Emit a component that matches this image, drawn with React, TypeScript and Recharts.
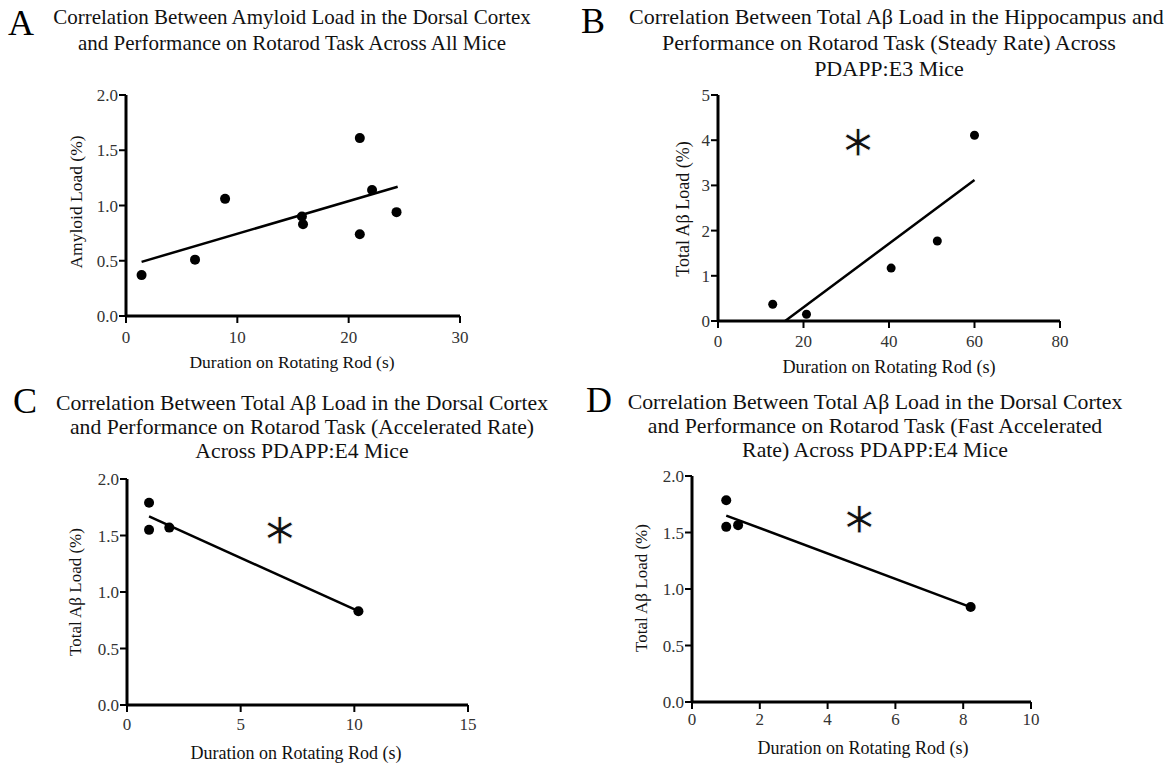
import React from 'react';
import { ScatterChart, Scatter, XAxis, YAxis, ReferenceLine } from 'recharts';

const FONT = '"Liberation Serif", "Times New Roman", Times, serif';

const xAxisLabel = 'Duration on Rotating Rod (s)';

// Panel A
const titleA = ['Correlation Between Amyloid Load in the Dorsal Cortex', 'and Performance on Rotarod Task Across All Mice'];
const yLabelA = 'Amyloid Load (%)';
const durationA = [1.4, 6.2, 8.9, 15.8, 15.9, 21.0, 21.0, 22.1, 24.3];
const loadA = [0.37, 0.51, 1.06, 0.9, 0.83, 1.61, 0.74, 1.14, 0.94];
const fitXA = [1.4, 24.4];
const fitYA = [0.49, 1.17];
const xTicksA = [0, 10, 20, 30];
const yTicksA = [0, 0.5, 1.0, 1.5, 2.0];

// Panel B
const titleB = ['Correlation Between Total Aβ Load in the Hippocampus and', 'Performance on Rotarod Task (Steady Rate) Across', 'PDAPP:E3 Mice'];
const yLabelB = 'Total Aβ Load (%)';
const durationB = [12.8, 20.7, 40.5, 51.3, 60.0];
const loadB = [0.37, 0.15, 1.17, 1.77, 4.11];
const fitXB = [15.7, 60.0];
const fitYB = [0, 3.12];
const starB = [32.8, 4.0];
const xTicksB = [0, 20, 40, 60, 80];
const yTicksB = [0, 1, 2, 3, 4, 5];

// Panel C
const titleC = ['Correlation Between Total Aβ Load in the Dorsal Cortex', 'and Performance on Rotarod Task (Accelerated Rate)', 'Across PDAPP:E4 Mice'];
const yLabelC = 'Total Aβ Load (%)';
const durationC = [0.97, 0.97, 1.86, 10.18];
const loadC = [1.79, 1.55, 1.57, 0.83];
const fitXC = [0.97, 10.18];
const fitYC = [1.67, 0.83];
const starC = [6.73, 1.56];
const xTicksC = [0, 5, 10, 15];
const yTicksC = [0, 0.5, 1.0, 1.5, 2.0];

// Panel D
const titleD = ['Correlation Between Total Aβ Load in the Dorsal Cortex', 'and Performance on Rotarod Task (Fast Accelerated', 'Rate) Across PDAPP:E4 Mice'];
const yLabelD = 'Total Aβ Load (%)';
const durationD = [1.01, 1.01, 1.36, 8.22];
const loadD = [1.785, 1.55, 1.565, 0.84];
const fitXD = [1.01, 8.22];
const fitYD = [1.65, 0.84];
const starD = [4.94, 1.63];
const xTicksD = [0, 2, 4, 6, 8, 10];
const yTicksD = [0, 0.5, 1.0, 1.5, 2.0];

const fmt1 = (v: number) => v.toFixed(1);
const fmt0 = (v: number) => String(v);

type Cfg = {
  letter: string;
  letterPos: { x: number; cy: number };
  title: string[];
  titleCx: number;
  titleY0: number;
  lineH: number;
  titleSize: number;
  labelSize: number;
  yLabelSize: number;
  box: { left: number; top: number; width: number; height: number };
  margin: { top: number; right: number; bottom: number; left: number };
  xs: number[];
  ys: number[];
  fitX: number[];
  fitY: number[];
  star: number[] | null;
  xTicks: number[];
  yTicks: number[];
  yFmt: (v: number) => string;
  yLabel: string;
  xLabelPos: { cx: number; cy: number };
  yLabelPos: { cx: number; cy: number };
  r: number;
  tickMargin: number;
};

const panels: Cfg[] = [
  {
    letter: 'A', letterPos: { x: 8, cy: 23 }, title: titleA, titleCx: 292, titleY0: 17, lineH: 26,
    titleSize: 21, labelSize: 17.5, yLabelSize: 17.5,
    box: { left: 0, top: 80, width: 580, height: 290 },
    margin: { top: 15, right: 120, bottom: 24, left: 66 },
    xs: durationA, ys: loadA, fitX: fitXA, fitY: fitYA, star: null,
    xTicks: xTicksA, yTicks: yTicksA, yFmt: fmt1, yLabel: yLabelA,
    xLabelPos: { cx: 292, cy: 362 }, yLabelPos: { cx: 76, cy: 202 }, r: 5, tickMargin: 8,
  },
  {
    letter: 'B', letterPos: { x: 581, cy: 21 }, title: titleB, titleCx: 889, titleY0: 17, lineH: 26,
    titleSize: 22, labelSize: 18.2, yLabelSize: 18,
    box: { left: 580, top: 80, width: 587, height: 290 },
    margin: { top: 15, right: 107, bottom: 19, left: 78 },
    xs: durationB, ys: loadB, fitX: fitXB, fitY: fitYB, star: starB,
    xTicks: xTicksB, yTicks: yTicksB, yFmt: fmt0, yLabel: yLabelB,
    xLabelPos: { cx: 889, cy: 367 }, yLabelPos: { cx: 683, cy: 209 }, r: 4.5, tickMargin: 7,
  },
  {
    letter: 'C', letterPos: { x: 13, cy: 401 }, title: titleC, titleCx: 302, titleY0: 403, lineH: 24,
    titleSize: 21.7, labelSize: 18, yLabelSize: 17,
    box: { left: 0, top: 460, width: 580, height: 305 },
    margin: { top: 19, right: 112, bottom: 30, left: 67 },
    xs: durationC, ys: loadC, fitX: fitXC, fitY: fitYC, star: starC,
    xTicks: xTicksC, yTicks: yTicksC, yFmt: fmt1, yLabel: yLabelC,
    xLabelPos: { cx: 296, cy: 753 }, yLabelPos: { cx: 76, cy: 592 }, r: 5, tickMargin: 6,
  },
  {
    letter: 'D', letterPos: { x: 586, cy: 400 }, title: titleD, titleCx: 875, titleY0: 402, lineH: 24,
    titleSize: 21.8, labelSize: 18, yLabelSize: 17,
    box: { left: 580, top: 460, width: 587, height: 305 },
    margin: { top: 16, right: 136, bottom: 33, left: 52 },
    xs: durationD, ys: loadD, fitX: fitXD, fitY: fitYD, star: starD,
    xTicks: xTicksD, yTicks: yTicksD, yFmt: fmt1, yLabel: yLabelD,
    xLabelPos: { cx: 863, cy: 748 }, yLabelPos: { cx: 642, cy: 588 }, r: 5, tickMargin: 4,
  },
];

const textColor = '#111';
const tickStyle = { fill: '#333', fontSize: 17, fontFamily: FONT };

function Panel({ cfg }: { cfg: Cfg }) {
  const data = cfg.xs.map((x, i) => ({ x, y: cfg.ys[i] }));
  const starData = cfg.star ? [{ x: cfg.star[0], y: cfg.star[1] }] : [];
  const xMax = cfg.xTicks[cfg.xTicks.length - 1];
  const yMax = cfg.yTicks[cfg.yTicks.length - 1];
  return (
    <>
      <div
        style={{
          position: 'absolute', left: cfg.letterPos.x, top: cfg.letterPos.cy - 20,
          fontSize: 36, lineHeight: '40px', height: 40, color: '#000', fontFamily: FONT,
        }}
      >
        {cfg.letter}
      </div>
      {cfg.title.map((line, i) => (
        <div
          key={i}
          style={{
            position: 'absolute', left: cfg.titleCx - 260, width: 520, textAlign: 'center',
            top: cfg.titleY0 + i * cfg.lineH - 12, lineHeight: '24px', fontSize: cfg.titleSize,
            color: textColor, fontFamily: FONT, whiteSpace: 'nowrap',
          }}
        >
          {line}
        </div>
      ))}
      <div
        style={{
          position: 'absolute', left: cfg.xLabelPos.cx - 150, width: 300, textAlign: 'center',
          top: cfg.xLabelPos.cy - 12, lineHeight: '24px', fontSize: cfg.labelSize, color: textColor,
          fontFamily: FONT, whiteSpace: 'nowrap',
        }}
      >
        {xAxisLabel}
      </div>
      <div
        style={{
          position: 'absolute', left: cfg.yLabelPos.cx - 100, width: 200, textAlign: 'center',
          top: cfg.yLabelPos.cy - 12, height: 24, lineHeight: '24px', fontSize: cfg.yLabelSize,
          color: textColor, fontFamily: FONT, whiteSpace: 'nowrap', transform: 'rotate(-90deg)',
        }}
      >
        {cfg.yLabel}
      </div>
      <div style={{ position: 'absolute', left: cfg.box.left, top: cfg.box.top }}>
        <ScatterChart width={cfg.box.width} height={cfg.box.height} margin={cfg.margin}>
          <XAxis
            type="number" dataKey="x" domain={[0, xMax]} ticks={cfg.xTicks} interval={0}
            allowDataOverflow height={30}
            axisLine={{ stroke: '#000', strokeWidth: 3 }}
            tickLine={{ stroke: '#000', strokeWidth: 2 }}
            tickSize={7} tickMargin={cfg.tickMargin} tick={tickStyle}
          />
          <YAxis
            type="number" dataKey="y" domain={[0, yMax]} ticks={cfg.yTicks} interval={0}
            allowDataOverflow width={60} tickFormatter={cfg.yFmt}
            axisLine={{ stroke: '#000', strokeWidth: 3 }}
            tickLine={{ stroke: '#000', strokeWidth: 2 }}
            tickSize={7} tickMargin={1} tick={tickStyle}
          />
          <ReferenceLine
            segment={[{ x: cfg.fitX[0], y: cfg.fitY[0] }, { x: cfg.fitX[1], y: cfg.fitY[1] }]}
            stroke="#000" strokeWidth={2.5} ifOverflow="visible"
          />
          <Scatter
            data={data} fill="#000" isAnimationActive={false}
            shape={(p: any) => <circle cx={p.cx} cy={p.cy} r={cfg.r} fill="#000" />}
          />
          {cfg.star && (
            <Scatter
              data={starData} isAnimationActive={false}
              shape={(p: any) => (
                <text
                  x={p.cx} y={p.cy} textAnchor="middle" dominantBaseline="central"
                  fontSize={44} fontFamily="DejaVu Sans" fill="#111"
                  stroke="#fff" strokeWidth={0.8} paintOrder="normal"
                >
                  ∗
                </text>
              )}
            />
          )}
        </ScatterChart>
      </div>
    </>
  );
}

export default function App() {
  return (
    <div
      style={{
        position: 'absolute', left: 0, top: 0, width: 1167, height: 765,
        background: '#fff', overflow: 'hidden', fontFamily: FONT,
      }}
    >
      {panels.map((p) => (
        <Panel key={p.letter} cfg={p} />
      ))}
    </div>
  );
}
